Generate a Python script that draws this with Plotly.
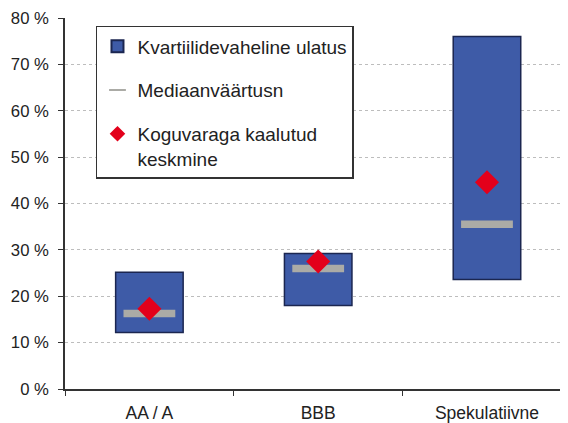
import plotly.graph_objects as go

categories = ["AA / A", "BBB", "Spekulatiivne"]
q1 = [12.2, 18.0, 23.6]
q3 = [25.2, 29.2, 76.0]
median = [16.3, 26.0, 35.5]
weighted_mean = [17.3, 27.5, 44.6]
ytick_vals = [0, 10, 20, 30, 40, 50, 60, 70, 80]
ytick_text = ["0 %", "10 %", "20 %", "30 %", "40 %", "50 %", "60 %", "70 %", "80 %"]

FONT = "Liberation Sans, Arial, sans-serif"

fig = go.Figure()
fig.add_trace(go.Bar(
    x=categories, y=[b - a for a, b in zip(q1, q3)], base=q1,
    width=0.40, name="Kvartiilidevaheline ulatus",
    marker=dict(color="#3E5BA7", line=dict(color="#1B2650", width=1.5)),
    legendgroup="a", hoverinfo="skip",
))
fig.add_trace(go.Scatter(
    x=categories, y=median, mode="markers", name="Mediaanväärtusn",
    marker=dict(symbol="line-ew", size=37, color="#ABABA6",
                line=dict(color="#ABABA6", width=7.5)),
    legendgroup="b",
))
fig.add_trace(go.Scatter(
    x=categories, y=weighted_mean, mode="markers",
    name="Koguvaraga kaalutud<br>keskmine",
    marker=dict(symbol="diamond", size=18.5, color="#E3001B"),
    legendgroup="c",
))

# page body adds an 8px offset; figure sized so the plot lands where the reference has it
fig.update_layout(
    width=560, height=415,
    margin=dict(l=57, r=0, t=10, b=33.5),
    plot_bgcolor="white", paper_bgcolor="white",
    font=dict(family=FONT, size=17, color="#222222"),
    showlegend=True,
    legend=dict(
        x=0.0616, y=0.9785, xanchor="left", yanchor="top",
        bordercolor="#333333", borderwidth=1.5, bgcolor="white",
        font=dict(size=19, family=FONT, color="#222222"),
        tracegroupgap=16, traceorder="grouped", valign="top",
        itemsizing="constant",
    ),
)
fig.update_xaxes(
    type="category", range=[-0.5, 2.48], automargin=False,
    showline=True, linecolor="#333333", linewidth=1.5,
    ticks="outside", tickson="boundaries", ticklen=5, tickcolor="#333333",
    showgrid=False, tickfont=dict(size=17.5), ticklabelstandoff=7,
)
fig.update_yaxes(
    range=[0, 80], tickvals=ytick_vals, ticktext=ytick_text, automargin=False,
    showline=True, linecolor="#333333", linewidth=1.5,
    ticks="outside", ticklen=5, tickcolor="#333333",
    showgrid=True, gridcolor="#BDBDBD", gridwidth=1, griddash="3px,3px",
    zeroline=False, ticklabelstandoff=6, tickfont=dict(size=16.7),
)

fig.write_html("out.html")
